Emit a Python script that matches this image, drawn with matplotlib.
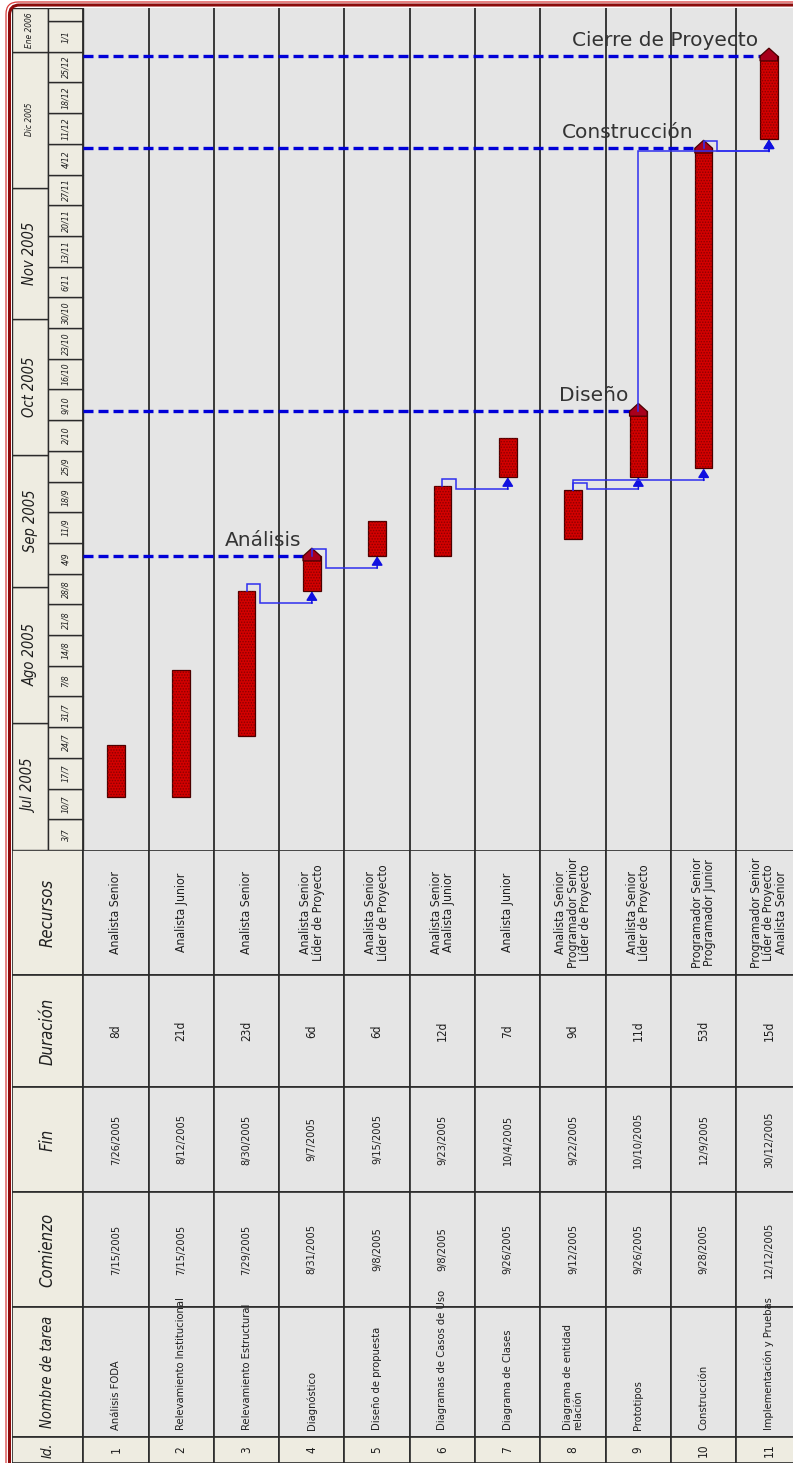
import os
import datetime as dt
import numpy as np
import matplotlib
matplotlib.use("Agg")
import matplotlib.pyplot as plt
import matplotlib.dates as mdates
from matplotlib.patches import Rectangle, Polygon, FancyBboxPatch
from matplotlib import font_manager
from matplotlib.font_manager import FontProperties


def find_condensed():
    # look for an installed narrow / condensed sans (regular + italic files)
    prefs = ["liberationsansnarrow", "arialnarrow", "dejavusanscondensed",
             "notosanscondensed", "robotocondensed", "opensanscondensed", "latocondensed"]
    skip = ["bold", "semi", "light", "thin", "black", "extra", "medium", "heavy"]
    found = {}
    for f in font_manager.fontManager.ttflist:
        base = os.path.basename(f.fname).lower().replace("-", "").replace("_", "").replace(" ", "")
        if any(s in base for s in skip):
            continue
        for p in prefs:
            if p in base:
                kind = "italic" if ("italic" in base or "oblique" in base) else "regular"
                found.setdefault(p, {})[kind] = f.fname
    for p in prefs:
        if p in found and "regular" in found[p]:
            reg = found[p]["regular"]
            return reg, found[p].get("italic", reg)
    return None, None


REG_FILE, ITA_FILE = find_condensed()
if REG_FILE:
    FP_REG = FontProperties(fname=REG_FILE)
    FP_ITA = FontProperties(fname=ITA_FILE)
    FS = 1.0
else:
    FP_REG = FontProperties(family="Liberation Sans")
    FP_ITA = FontProperties(family="Liberation Sans", style="italic")
    FS = 0.9


def fp(italic, size):
    p = (FP_ITA if italic else FP_REG).copy()
    p.set_size(size * FS)
    return p


WIDE = "DejaVu Sans"

# ---------------- data ----------------
task_ids = list(range(1, 12))
task_names = ["Análisis FODA", "Relevamiento Institucional", "Relevamiento Estructural",
              "Diagnóstico", "Diseño de propuesta", "Diagramas de Casos de Uso",
              "Diagrama de Clases", "Diagrama de entidad\nrelación", "Prototipos",
              "Construcción", "Implementación y Pruebas"]
start_txt = ["7/15/2005", "7/15/2005", "7/29/2005", "8/31/2005", "9/8/2005", "9/8/2005",
             "9/26/2005", "9/12/2005", "9/26/2005", "9/28/2005", "12/12/2005"]
end_txt = ["7/26/2005", "8/12/2005", "8/30/2005", "9/7/2005", "9/15/2005", "9/23/2005",
           "10/4/2005", "9/22/2005", "10/10/2005", "12/9/2005", "30/12/2005"]
durations = ["8d", "21d", "23d", "6d", "6d", "12d", "7d", "9d", "11d", "53d", "15d"]
resources = ["Analista Senior",
             "Analista Junior",
             "Analista Senior",
             "Analista Senior\nLíder de Proyecto",
             "Analista Senior\nLíder de Proyecto",
             "Analista Senior\nAnalista Junior",
             "Analista Junior",
             "Analista Senior\nProgramador Senior\nLíder de Proyecto",
             "Analista Senior\nLíder de Proyecto",
             "Programador Senior\nProgramador Junior",
             "Programador Senior\nLíder de Proyecto\nAnalista Senior"]
field_headers = ["Recursos", "Duración", "Fin", "Comienzo", "Nombre de tarea", "Id."]
dependencies = [(3, 4), (4, 5), (6, 7), (8, 9), (8, 10), (9, 11), (10, 11)]
milestone_tasks = [4, 9, 10, 11]
milestone_labels = ["Análisis", "Diseño", "Construcción", "Cierre de Proyecto"]
month_labels = ["Jul 2005", "Ago 2005", "Sep 2005", "Oct 2005", "Nov 2005", "Dic 2005", "Ene 2006"]
week_labels = ["3/7", "10/7", "17/7", "24/7", "31/7", "7/8", "14/8", "21/8", "28/8", "4/9",
               "11/9", "18/9", "25/9", "2/10", "9/10", "16/10", "23/10", "30/10", "6/11",
               "13/11", "20/11", "27/11", "4/12", "11/12", "18/12", "25/12", "1/1"]

MES = {"Jul": 7, "Ago": 8, "Sep": 9, "Oct": 10, "Nov": 11, "Dic": 12, "Ene": 1}


def parse_date(s):
    a, b, y = [int(v) for v in s.split("/")]
    if a > 12:          # one entry is written day/month
        a, b = b, a
    return dt.date(y, a, b)


def parse_week(s):
    d, m = [int(v) for v in s.split("/")]
    return dt.date(2005 if m >= 7 else 2006, m, d)


starts = mdates.date2num([parse_date(s) for s in start_txt])
ends = mdates.date2num([parse_date(s) + dt.timedelta(days=1) for s in end_txt])
weeks = mdates.date2num([parse_week(s) for s in week_labels])
months = mdates.date2num([dt.date(int(m.split()[1]), MES[m.split()[0]], 1) for m in month_labels])

# ---------------- layout (pixels) ----------------
W, H = 793, 1463
LEFT, COL0, COLW = 12, 83.3, 65.3
RIGHT = COL0 + 11 * COLW
TOP, SPLIT = 8, 850
PX_DAY = 4.386
X0 = 0.5 - (COL0 - LEFT) / COLW
XM = 0.5 - (COL0 - 48) / COLW
field_edges = [0, 125, 237, 342, 457, 587, 613]

GRAY = "#E5E5E5"
CREAM = "#EEECE1"
LINE = "#2A2A2A"
TXT = "#1E1E1E"
RED = "#D20000"
BLUE_M = "#0000D8"
BLUE_L = "#2F2FEF"

plt.rcParams["hatch.linewidth"] = 0.7

fig = plt.figure(figsize=(W / 100, H / 100), dpi=100)
fig.patch.set_facecolor("white")


def fx(px):
    return px / W


def fy(py):
    return 1 - py / H


def clean(ax):
    ax.set_xticks([])
    ax.set_yticks([])
    for s in ax.spines.values():
        s.set_visible(False)


# ---------------- gantt part ----------------
ax_g = fig.add_axes([fx(LEFT), fy(SPLIT), fx(RIGHT) - fx(LEFT), fy(TOP) - fy(SPLIT)])
y0 = weeks[0]
y1 = y0 + (SPLIT - TOP) / PX_DAY
ax_g.set_xlim(X0, 11.5)
ax_g.set_ylim(y0, y1)
ax_g.set_facecolor(GRAY)
clean(ax_g)

# timescale header: months
for i, lab in enumerate(month_labels):
    b = max(months[i], y0)
    t = months[i + 1] if i + 1 < len(months) else y1
    ax_g.add_patch(Rectangle((X0, b), XM - X0, t - b, fc=CREAM, ec=LINE, lw=1.0, zorder=1))
    small = lab.startswith(("Dic", "Ene"))
    ax_g.text((X0 + XM) / 2, (b + t) / 2, lab, rotation=90, ha="center", va="center",
              fontproperties=fp(True, 6 if small else 10.5), color=TXT)

# timescale header: weeks
for i, lab in enumerate(week_labels):
    b = weeks[i]
    t = weeks[i + 1] if i + 1 < len(weeks) else b + 7
    ax_g.add_patch(Rectangle((XM, b), 0.5 - XM, t - b, fc=CREAM, ec=LINE, lw=1.0, zorder=1))
    ax_g.text((XM + 0.5) / 2, (b + t) / 2, lab, rotation=90, ha="center", va="center",
              fontproperties=fp(True, 6.3), color=TXT)
ax_g.add_patch(Rectangle((XM, weeks[-1] + 7), 0.5 - XM, y1 - weeks[-1] - 7,
                         fc=CREAM, ec=LINE, lw=1.0, zorder=1))

ax_g.vlines(np.arange(0.5, 12.0, 1.0), y0, y1, colors=LINE, lw=1.3, zorder=2)

# milestone dashed lines and labels
for t, lab in zip(milestone_tasks, milestone_labels):
    e = ends[t - 1]
    ax_g.hlines(e, 0.5, t, colors=BLUE_M, lw=2.4, linestyles=(0, (3, 1.5)), zorder=3)
    ax_g.text(t - 0.16, e + 1.5, lab, ha="right", va="bottom", fontsize=14.5,
              family=WIDE, color="#333333", zorder=8)

# bars
dur = ends - starts
ax_g.bar(task_ids, dur, bottom=starts, width=0.27, color=RED, edgecolor="#4A0000",
         lw=0.9, zorder=4)
ax_g.bar(task_ids, dur, bottom=starts, width=0.27, color="none", edgecolor="#8A0000",
         hatch="......", lw=0, zorder=5)

# milestone caps
for t in milestone_tasks:
    e = ends[t - 1]
    hw, dh = 0.135, 8 / PX_DAY
    cap = Polygon([(t - hw, e - 0.6 * dh), (t - hw, e), (t, e + dh), (t + hw, e),
                   (t + hw, e - 0.6 * dh)], closed=True, fc="#A8001C", ec="#4A0000",
                  lw=0.9, zorder=6)
    ax_g.add_patch(cap)

# dependency links
APPROACH = 12 / PX_DAY
EXIT = 7 / PX_DAY
JOG = 0.21
for src, tgt in dependencies:
    xs, ys = src, ends[src - 1]
    xt, yt = tgt, starts[tgt - 1]
    yh = yt - APPROACH
    if yh > ys + 1:
        px = [xs, xs, xt]
        py = [ys, yh, yh]
    else:
        yx = ys + EXIT
        px = [xs, xs, xs + JOG, xs + JOG, xt]
        py = [ys, yx, yx, yh, yh]
    ax_g.plot(px, py, color=BLUE_L, lw=1.1, zorder=7, solid_joinstyle="miter")
    ax_g.annotate("", xy=(xt, yt), xytext=(xt, yh),
                  arrowprops=dict(arrowstyle="-|>,head_length=0.45,head_width=0.28",
                                  color="#1010E0", lw=1.1, shrinkA=0, shrinkB=0,
                                  mutation_scale=12), zorder=7)

# ---------------- table part ----------------
ax_t = fig.add_axes([fx(LEFT), 0, fx(RIGHT) - fx(LEFT), fy(SPLIT)])
ax_t.set_xlim(X0, 11.5)
ax_t.set_ylim(H - SPLIT, 0)
ax_t.set_facecolor(GRAY)
clean(ax_t)

head_size = {"Nombre de tarea": 10.5, "Id.": 10}
for f, head in enumerate(field_headers):
    top, bot = field_edges[f], field_edges[f + 1]
    ax_t.add_patch(Rectangle((X0, top), 0.5 - X0, bot - top, fc=CREAM, ec=LINE, lw=1.2))
    ax_t.text((X0 + 0.5) / 2, (top + bot) / 2, head, rotation=90, ha="center", va="center",
              fontproperties=fp(True, head_size.get(head, 12)), color=TXT)
    for t in task_ids:
        fc = CREAM if head == "Id." else GRAY
        ax_t.add_patch(Rectangle((t - 0.5, top), 1, bot - top, fc=fc, ec=LINE, lw=1.2))

cols = {"Recursos": resources, "Duración": durations, "Fin": end_txt,
        "Comienzo": start_txt, "Id.": [str(t) for t in task_ids]}
cell_size = {"Recursos": 8.8, "Duración": 8.5, "Fin": 7.8, "Comienzo": 7.8, "Id.": 8.5}
for f, head in enumerate(field_headers):
    top, bot = field_edges[f], field_edges[f + 1]
    for t in task_ids:
        if head == "Nombre de tarea":
            ax_t.text(t, bot - 7, task_names[t - 1], rotation=90, rotation_mode="anchor",
                      ha="left", va="center", fontproperties=fp(False, 8), color=TXT,
                      linespacing=1.0)
        else:
            ax_t.text(t, (top + bot) / 2, cols[head][t - 1], rotation=90, ha="center",
                      va="center", fontproperties=fp(False, cell_size[head]), color=TXT,
                      linespacing=0.95, multialignment="center")

# ---------------- outer frame ----------------
ax_f = fig.add_axes([0, 0, 1, 1])
ax_f.set_xlim(0, W)
ax_f.set_ylim(H, 0)
ax_f.patch.set_alpha(0)
ax_f.axis("off")
ax_f.add_patch(FancyBboxPatch((6, 2), W + 60, H + 60, boxstyle="round,pad=0,rounding_size=12",
                              fill=False, ec="#D83A3A", lw=0.9))
ax_f.add_patch(FancyBboxPatch((9.5, 5), W + 60, H + 60, boxstyle="round,pad=0,rounding_size=10",
                              fill=False, ec="#8B0A0A", lw=2.2))

fig.savefig("out.png", dpi=100)
